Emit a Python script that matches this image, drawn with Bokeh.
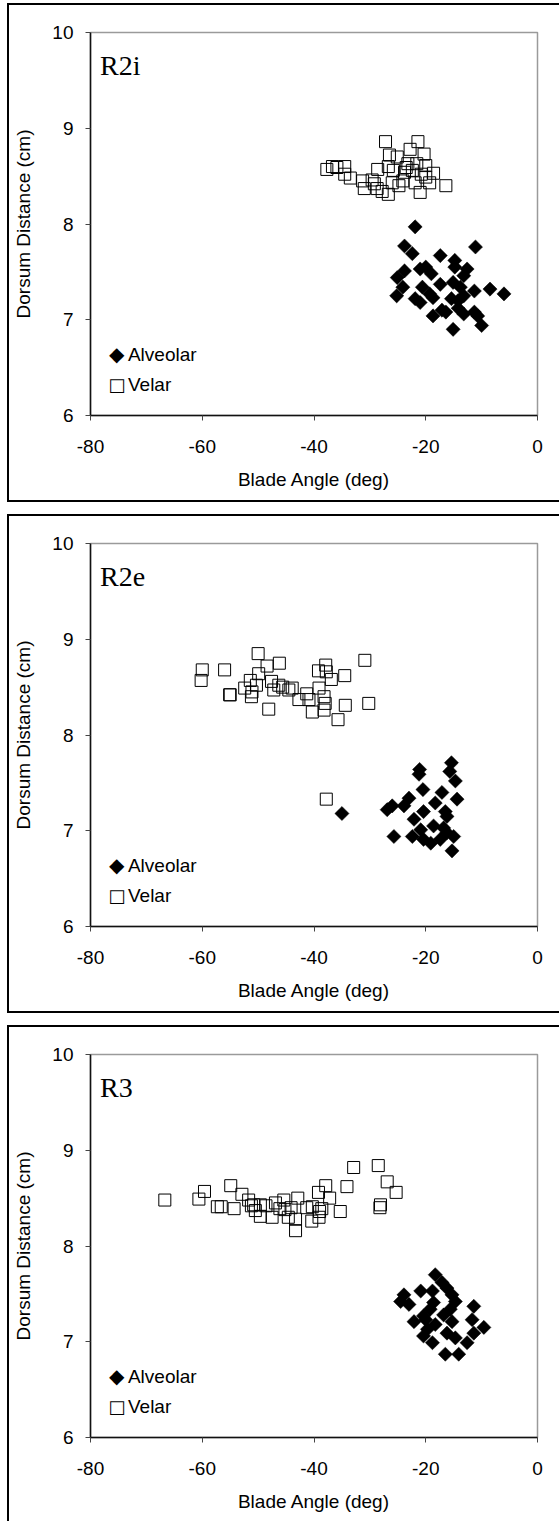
import numpy as np
from bokeh.plotting import figure
from bokeh.layouts import column
from bokeh.models import Label, Range1d, FixedTicker
from bokeh.embed import file_html
from bokeh.resources import INLINE

# ---------------- data ----------------
x_ticks = [-80, -60, -40, -20, 0]
y_ticks = [6, 7, 8, 9, 10]
panel_names = ["R2i", "R2e", "R3"]
series_names = ["Alveolar", "Velar"]
x_label = "Blade Angle (deg)"
y_label = "Dorsum Distance (cm)"

r2i_alv_x = [-21.9, -23.8, -22.4, -11.1, -17.4, -14.8, -14.8, -23.8, -21.0, -20.0, -19.0, -25.1, -12.6,
             -13.2, -15.1, -17.4, -13.8, -24.1, -20.6, -11.3, -8.5, -6.0, -25.2, -19.3, -18.7, -21.0,
             -15.4, -14.2, -13.2, -17.1, -16.4, -18.7, -13.2, -11.3, -10.7, -10.0, -15.1, -14.2, -21.9]
r2i_alv_y = [7.97, 7.77, 7.69, 7.76, 7.67, 7.62, 7.55, 7.51, 7.53, 7.55, 7.48, 7.44, 7.53,
             7.46, 7.39, 7.37, 7.34, 7.34, 7.34, 7.30, 7.32, 7.27, 7.25, 7.27, 7.23, 7.18,
             7.22, 7.20, 7.25, 7.10, 7.08, 7.04, 7.06, 7.08, 7.04, 6.94, 6.90, 7.12, 7.22]
r2i_vel_x = [-37.7, -36.7, -35.9, -34.5, -34.5, -33.5, -31.3, -31.0, -29.6, -29.2, -28.7, -28.6, -27.8,
             -27.2, -26.7, -26.5, -26.7, -25.8, -25.1, -24.8, -24.1, -23.8, -23.2, -22.8, -22.4, -21.6,
             -21.4, -21.0, -20.8, -20.3, -20.0, -20.0, -19.3, -18.6, -16.4, -21.9, -23.5, -26.0]
r2i_vel_y = [8.57, 8.60, 8.59, 8.60, 8.52, 8.48, 8.45, 8.37, 8.46, 8.42, 8.37, 8.57, 8.34,
             8.86, 8.31, 8.72, 8.60, 8.56, 8.70, 8.40, 8.45, 8.54, 8.63, 8.78, 8.56, 8.63,
             8.86, 8.33, 8.52, 8.73, 8.61, 8.49, 8.43, 8.53, 8.40, 8.43, 8.59, 8.43]

r2e_alv_x = [-15.4, -15.7, -21.1, -21.2, -14.7, -20.5, -17.1, -14.4, -23.0, -26.9, -26.0, -23.9, -18.3,
             -20.4, -16.5, -16.2, -22.1, -18.6, -16.8, -20.9, -25.7, -22.4, -15.0, -20.4, -19.1, -17.4,
             -16.2, -15.3, -35.0]
r2e_alv_y = [7.71, 7.62, 7.64, 7.59, 7.52, 7.43, 7.40, 7.33, 7.34, 7.22, 7.26, 7.26, 7.29,
             7.20, 7.20, 7.15, 7.12, 7.05, 7.03, 7.01, 6.94, 6.94, 6.94, 6.91, 6.87, 6.91,
             6.98, 6.79, 7.18]
r2e_vel_x = [-60.0, -60.2, -56.0, -55.1, -55.0, -50.0, -48.4, -46.2, -52.4, -51.4, -51.2, -50.3, -51.1,
             -49.9, -48.1, -47.6, -47.2, -46.3, -45.6, -44.5, -43.9, -42.7, -41.3, -40.9, -40.3, -39.2,
             -37.9, -37.8, -39.1, -38.2, -38.0, -38.2, -36.9, -34.5, -34.4, -35.7, -30.9, -30.2, -37.8]
r2e_vel_y = [8.68, 8.57, 8.68, 8.42, 8.42, 8.85, 8.72, 8.75, 8.49, 8.57, 8.40, 8.52, 8.45,
             8.64, 8.27, 8.56, 8.47, 8.52, 8.50, 8.47, 8.49, 8.37, 8.43, 8.37, 8.24, 8.67,
             8.73, 8.66, 8.49, 8.40, 8.33, 8.26, 8.58, 8.62, 8.31, 8.16, 8.78, 8.33, 7.33]

r3_alv_x = [-18.3, -17.1, -16.2, -20.9, -18.8, -23.9, -24.5, -23.0, -15.3, -14.7, -18.6, -19.2, -15.6,
            -11.4, -16.8, -20.4, -22.1, -11.7, -18.3, -15.3, -19.7, -9.6, -16.2, -11.4, -20.4, -14.7,
            -18.8, -12.6, -16.5, -14.1, -20.0]
r3_alv_y = [7.70, 7.62, 7.56, 7.53, 7.53, 7.49, 7.42, 7.39, 7.49, 7.42, 7.41, 7.34, 7.34,
            7.37, 7.28, 7.27, 7.21, 7.23, 7.18, 7.21, 7.13, 7.15, 7.09, 7.09, 7.06, 7.04,
            6.99, 6.99, 6.87, 6.87, 7.23]
r3_vel_x = [-66.7, -60.6, -59.6, -57.3, -56.6, -54.9, -54.3, -52.9, -51.7, -51.2, -50.8, -50.5, -49.6,
            -49.6, -48.6, -47.5, -46.9, -46.1, -45.4, -45.2, -44.6, -44.1, -43.3, -43.3, -42.9, -41.3,
            -40.4, -39.1, -39.0, -38.6, -39.2, -37.9, -37.2, -35.3, -34.1, -32.9, -28.5, -26.9, -25.3,
            -28.1, -28.2, -40.3]
r3_vel_y = [8.48, 8.49, 8.57, 8.41, 8.41, 8.63, 8.39, 8.54, 8.48, 8.42, 8.43, 8.37, 8.31,
            8.43, 8.42, 8.30, 8.45, 8.39, 8.48, 8.38, 8.30, 8.40, 8.28, 8.16, 8.50, 8.40,
            8.26, 8.30, 8.36, 8.39, 8.56, 8.63, 8.50, 8.36, 8.62, 8.82, 8.84, 8.67, 8.56,
            8.43, 8.40, 8.41]

panels = [
    (r2i_alv_x, r2i_alv_y, r2i_vel_x, r2i_vel_y),
    (r2e_alv_x, r2e_alv_y, r2e_vel_x, r2e_vel_y),
    (r3_alv_x, r3_alv_y, r3_vel_x, r3_vel_y),
]

FONT = "Liberation Sans"
BORDER = "2px solid black"


def make_panel(name, ax, ay, vx, vy, last):
    h = 496 if last else 499
    top = 27
    p = figure(width=552, height=h, x_range=Range1d(-80, 0), y_range=Range1d(6, 10),
               output_backend="svg", toolbar_location=None,
               min_border_left=81, min_border_right=24, min_border_top=top,
               min_border_bottom=h - top - 383)
    styles = {"border-left": BORDER, "border-top": BORDER}
    if not last:
        styles["border-bottom"] = BORDER
    p.styles = styles
    p.xgrid.visible = False
    p.ygrid.visible = False
    p.outline_line_color = "#9a9a9a"
    p.outline_line_width = 1.5
    p.background_fill_color = "white"
    p.border_fill_color = "white"

    for axis, ticks in ((p.xaxis[0], x_ticks), (p.yaxis[0], y_ticks)):
        axis.ticker = FixedTicker(ticks=ticks)
        axis.major_label_overrides = {t: str(t) for t in ticks}
        axis.minor_tick_line_color = None
        axis.major_tick_in = 0
        axis.major_tick_out = 5
        axis.major_tick_line_color = "#444444"
        axis.axis_line_color = "#111111"
        axis.axis_line_width = 1.5
        axis.major_label_text_font = FONT
        axis.major_label_text_font_size = "19px"
        axis.major_label_text_color = "black"
        axis.axis_label_text_font = FONT
        axis.axis_label_text_font_size = "19px"
        axis.axis_label_text_font_style = "normal"
        axis.axis_label_text_color = "black"
    p.xaxis.axis_label = x_label
    p.yaxis.axis_label = y_label
    p.xaxis.major_label_standoff = 19
    p.yaxis.major_label_standoff = 12
    p.xaxis.axis_label_standoff = 13
    p.yaxis.axis_label_standoff = 15

    p.scatter(vx, vy, marker="square", size=12, fill_color=None,
              line_color="black", line_width=1)
    p.scatter(ax, ay, marker="square", size=10, angle=np.pi / 4,
              fill_color="black", line_color="black", line_width=0.5)

    p.add_layout(Label(x=-78.3, y=9.49, text=name, text_font="Liberation Serif",
                       text_font_size="28px", text_color="black"))
    # legend (text symbols)
    p.add_layout(Label(x=-75.3, y=6.64, text="\u25c6", text_font="DejaVu Sans",
                       text_font_size="20px", text_align="center", text_baseline="middle",
                       text_color="black"))
    p.add_layout(Label(x=-73.3, y=6.64, text=series_names[0], text_font=FONT,
                       text_font_size="19px", text_baseline="middle", text_color="black"))
    p.add_layout(Label(x=-75.3, y=6.32, text="\u25a1", text_font="DejaVu Sans",
                       text_font_size="18px", text_align="center", text_baseline="middle",
                       text_color="black"))
    p.add_layout(Label(x=-73.3, y=6.32, text=series_names[1], text_font=FONT,
                       text_font_size="19px", text_baseline="middle", text_color="black"))
    return p


figs = []
for i, (name, data) in enumerate(zip(panel_names, panels)):
    figs.append(make_panel(name, *data, last=(i == 2)))

layout = column(*figs, spacing=12, margin=(3, 0, 0, 7))
open("out.html", "w").write(file_html(layout, INLINE))
